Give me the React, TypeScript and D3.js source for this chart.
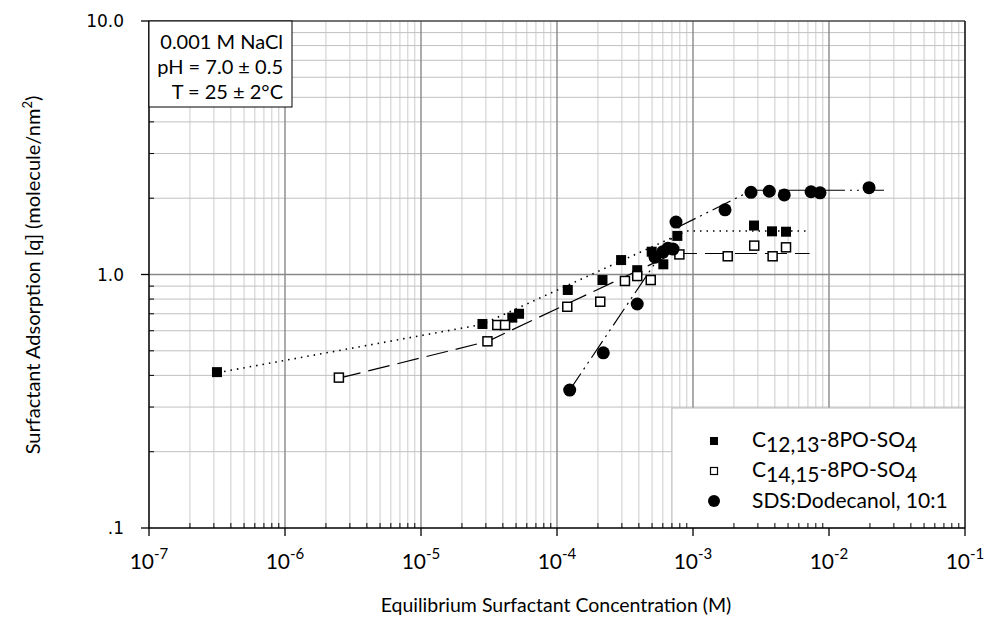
import React from 'react';
import * as d3 from 'd3';

// C12,13-8PO-SO4 (filled squares)
const c1213Conc = [3.16e-7, 2.83e-5, 4.69e-5, 5.26e-5, 1.2e-4, 2.16e-4, 2.96e-4, 3.89e-4, 4.97e-4, 6.05e-4, 7.67e-4, 2.81e-3, 3.81e-3, 4.83e-3];
const c1213Ads = [0.412, 0.638, 0.676, 0.70, 0.869, 0.951, 1.14, 1.04, 1.23, 1.097, 1.42, 1.56, 1.48, 1.475];
const c1213FitConc = [3.2e-7, 2.8e-5, 9.0e-4, 7.2e-3];
const c1213FitAds = [0.41, 0.635, 1.485, 1.485];

// C14,15-8PO-SO4 (open squares)
const c1415Conc = [2.49e-6, 3.08e-5, 3.64e-5, 4.15e-5, 1.19e-4, 2.08e-4, 3.16e-4, 3.89e-4, 4.89e-4, 7.94e-4, 1.8e-3, 2.82e-3, 3.85e-3, 4.83e-3];
const c1415Ads = [0.392, 0.545, 0.632, 0.632, 0.746, 0.781, 0.943, 0.986, 0.951, 1.20, 1.18, 1.30, 1.18, 1.28];
const c1415FitConc = [2.5e-6, 3.1e-5, 7.25e-4, 7.2e-3];
const c1415FitAds = [0.39, 0.545, 1.21, 1.21];

// SDS:Dodecanol 10:1 (filled circles)
const sdsConc = [1.24e-4, 2.19e-4, 3.89e-4, 5.26e-4, 6.01e-4, 6.55e-4, 7.13e-4, 7.5e-4, 1.72e-3, 2.67e-3, 3.64e-3, 4.69e-3, 7.38e-3, 8.59e-3, 1.97e-2];
const sdsAds = [0.35, 0.491, 0.765, 1.17, 1.23, 1.27, 1.26, 1.61, 1.80, 2.11, 2.13, 2.06, 2.12, 2.10, 2.20];
const sdsFitConc = [1.24e-4, 8.0e-4, 2.72e-3, 2.67e-2];
const sdsFitAds = [0.35, 1.55, 2.15, 2.15];

const xTickExp = [-7, -6, -5, -4, -3, -2, -1];
const yTickVals = [0.1, 1, 10];
const yTickText = ['.1', '1.0', '10.0'];
const conditions = ['0.001 M NaCl', 'pH = 7.0 \u00b1 0.5', 'T = 25 \u00b1 2\u00b0C'];

const W = 988;
const H = 620;
const left = 149, right = 965, top = 21, bottom = 528;
const sans = 'Lato, "Open Sans", sans-serif';

export default function App() {
  const x = d3.scaleLog().domain([1e-7, 1e-1]).range([left, right]);
  const y = d3.scaleLog().domain([0.1, 10]).range([bottom, top]);

  const majorX = xTickExp.map(e => Math.pow(10, e));
  const minorX: number[] = [];
  xTickExp.slice(0, -1).forEach(e => {
    for (let k = 2; k <= 9; k++) minorX.push(k * Math.pow(10, e));
  });
  const minorY: number[] = [];
  [0.1, 1].forEach(b => {
    for (let k = 2; k <= 9; k++) minorY.push(k * b);
  });

  const line = d3.line<[number, number]>().x(d => x(d[0])).y(d => y(d[1]));
  const zip = (a: number[], b: number[]) => a.map((v, i) => [v, b[i]] as [number, number]);

  return (
    <svg width={W} height={H} style={{ position: 'absolute', left: 0, top: 0, background: '#fff' }}>
      {/* grid */}
      {minorX.map((v, i) => (
        <line key={'mx' + i} x1={x(v)} x2={x(v)} y1={top} y2={bottom} stroke="#cccccc" strokeWidth={1} />
      ))}
      {minorY.map((v, i) => (
        <line key={'my' + i} x1={left} x2={right} y1={y(v)} y2={y(v)} stroke="#c0c0c0" strokeWidth={1} />
      ))}
      {majorX.map((v, i) => (
        <line key={'Mx' + i} x1={x(v)} x2={x(v)} y1={top} y2={bottom} stroke="#888" strokeWidth={1.4} />
      ))}
      <line x1={left} x2={right} y1={y(1)} y2={y(1)} stroke="#888" strokeWidth={1.4} />

      {/* legend box (covers grid) */}
      <rect x={672} y={408} width={right - 672} height={bottom - 408} fill="#fff" stroke="#bdbdbd" strokeWidth={1} />

      {/* frame */}
      <line x1={left} x2={right} y1={top} y2={top} stroke="#444" strokeWidth={1.3} />
      <line x1={right} x2={right} y1={top} y2={bottom} stroke="#222" strokeWidth={1.5} />
      <line x1={left} x2={left} y1={top} y2={bottom} stroke="#000" strokeWidth={1.3} />
      <line x1={left} x2={right} y1={bottom} y2={bottom} stroke="#000" strokeWidth={1.3} />

      {/* ticks */}
      {majorX.map((v, i) => (
        <line key={'tx' + i} x1={x(v)} x2={x(v)} y1={bottom} y2={bottom + 8} stroke="#000" strokeWidth={1.3} />
      ))}
      {minorX.map((v, i) => (
        <line key={'tmx' + i} x1={x(v)} x2={x(v)} y1={bottom - 5} y2={bottom} stroke="#000" strokeWidth={1} />
      ))}
      {yTickVals.map((v, i) => (
        <line key={'ty' + i} x1={left - 8} x2={left} y1={y(v)} y2={y(v)} stroke="#000" strokeWidth={1.3} />
      ))}
      {minorY.map((v, i) => (
        <line key={'tmy' + i} x1={left} x2={left + 5} y1={y(v)} y2={y(v)} stroke="#000" strokeWidth={1} />
      ))}

      {/* tick labels */}
      {yTickVals.map((v, i) => (
        <text key={'ly' + i} x={124} y={y(v) + 6} textAnchor="end" fontFamily='"DejaVu Sans", sans-serif' fontSize={17} fill="#000">
          {yTickText[i]}
        </text>
      ))}
      {xTickExp.map((e, i) => (
        <text key={'lx' + i} x={x(Math.pow(10, e))} y={569} textAnchor="middle" fontFamily={sans} fontSize={21} fill="#000">
          10<tspan fontSize={15} dy={-10}>{e}</tspan>
        </text>
      ))}

      {/* axis titles */}
      <text x={556} y={612} textAnchor="middle" fontFamily={sans} fontSize={19.5} fill="#000">
        Equilibrium Surfactant Concentration (M)
      </text>
      <text transform="translate(40,275) rotate(-90)" textAnchor="middle" fontFamily={sans} fontSize={20} fill="#000">
        Surfactant Adsorption [q] (molecule/nm<tspan fontSize={13} dy={-8}>2</tspan><tspan dy={8}>)</tspan>
      </text>

      {/* trend lines */}
      <path d={line(zip(c1213FitConc, c1213FitAds)) || ''} fill="none" stroke="#000" strokeWidth={1.6} strokeDasharray="1.5,5" />
      <path d={line(zip(c1415FitConc, c1415FitAds)) || ''} fill="none" stroke="#000" strokeWidth={1.2} strokeDasharray="22,8" />
      <path d={line(zip(sdsFitConc, sdsFitAds)) || ''} fill="none" stroke="#000" strokeWidth={1.2} strokeDasharray="20,5,2,5,2,5" />

      {/* markers */}
      {c1213Conc.map((v, i) => (
        <rect key={'s1' + i} x={x(v) - 5} y={y(c1213Ads[i]) - 5} width={10} height={10} fill="#000" />
      ))}
      {c1415Conc.map((v, i) => (
        <rect key={'s2' + i} x={x(v) - 4.5} y={y(c1415Ads[i]) - 4.5} width={9} height={9} fill="#fff" stroke="#000" strokeWidth={1.5} />
      ))}
      {sdsConc.map((v, i) => (
        <circle key={'s3' + i} cx={x(v)} cy={y(sdsAds[i])} r={6.5} fill="#000" />
      ))}

      {/* conditions box */}
      <rect x={left} y={top} width={143} height={86} fill="#fff" stroke="#000" strokeWidth={1} />
      {conditions.map((t, i) => (
        <text key={'c' + i} x={283} y={49 + i * 25} textAnchor="end" fontFamily={sans} fontSize={20} fill="#000">
          {t}
        </text>
      ))}

      {/* legend */}
      <rect x={710} y={437} width={8} height={8} fill="#000" />
      <text x={752} y={447} fontFamily={sans} fontSize={21} fill="#000">
        C<tspan dy={5}>12,13</tspan><tspan dy={-5}>-8PO-SO</tspan><tspan dy={5}>4</tspan>
      </text>
      <rect x={710.5} y={467.5} width={7} height={7} fill="#fff" stroke="#000" strokeWidth={1.2} />
      <text x={752} y={477} fontFamily={sans} fontSize={21} fill="#000">
        C<tspan dy={5}>14,15</tspan><tspan dy={-5}>-8PO-SO</tspan><tspan dy={5}>4</tspan>
      </text>
      <circle cx={714} cy={501} r={6} fill="#000" />
      <text x={752} y={508} fontFamily={sans} fontSize={21} fill="#000">
        SDS:Dodecanol, 10:1
      </text>
    </svg>
  );
}
